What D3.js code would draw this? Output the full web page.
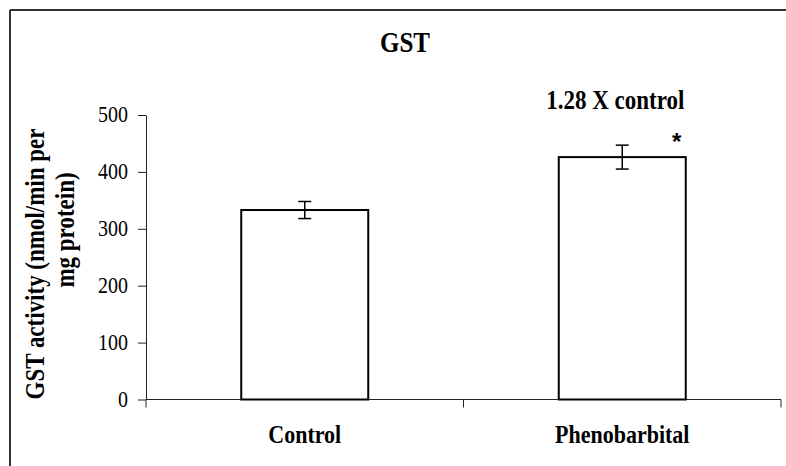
<!DOCTYPE html>
<html>
<head>
<meta charset="utf-8">
<script src="https://cdn.jsdelivr.net/npm/d3@7"></script>
<style>
  body { margin: 0; background: #fff; }
  svg text { font-family: "Liberation Serif", "Times New Roman", serif; fill: #000; }
</style>
</head>
<body>
<div id="chart"></div>
<script>
// values
const groups = ["Control", "Phenobarbital"];
const means = [333, 426];
const errors = [15, 21];
const yTicks = [0, 100, 200, 300, 400, 500];
const title = "GST";
const yTitle = ["GST activity (nmol/min per", "mg protein)"];
const foldText = "1.28 X control";
const sigMark = "*";

const width = 786;
const height = 466;
const stretch = 1.15; // the source text is a bit taller than it is wide

const svg = d3.select("#chart").append("svg")
  .attr("width", width)
  .attr("height", height);

// outer frame (only top and left edges are in view)
svg.append("line")
  .attr("x1", 10).attr("y1", 10).attr("x2", width).attr("y2", 10)
  .attr("stroke", "#333").attr("stroke-width", 2);
svg.append("line")
  .attr("x1", 10).attr("y1", 10).attr("x2", 10).attr("y2", height)
  .attr("stroke", "#333").attr("stroke-width", 2);

const x = d3.scaleBand()
  .domain(groups)
  .range([146, 781])
  .paddingInner(0.6)
  .paddingOuter(0.3);

const y = d3.scaleLinear()
  .domain([0, 500])
  .range([399.5, 115]);

const addText = (sel, str, tx, ty, size, bold, anchor, rot = 0) => {
  return sel.append("text")
    .attr("transform", "translate(" + tx + "," + ty + ")" +
      (rot ? " rotate(" + rot + ")" : "") + " scale(1," + stretch + ")")
    .attr("font-size", size)
    .attr("font-weight", bold ? "bold" : "normal")
    .attr("text-anchor", anchor)
    .text(str);
};

// y axis
const yAxis = svg.append("g")
  .attr("transform", "translate(146,0)")
  .call(d3.axisLeft(y).tickValues(yTicks).tickSize(8).tickSizeOuter(0).tickFormat(d3.format("d")));
yAxis.select(".domain").attr("stroke", "#222");
yAxis.selectAll(".tick line").attr("stroke", "#222");
yAxis.selectAll(".tick text").remove();
yTicks.forEach(function (t) {
  addText(svg, t, 128, y(t) + 7, 20, false, "end");
});

// x axis: ticks sit on the band boundaries, like the source
svg.append("line")
  .attr("x1", x.range()[0]).attr("x2", x.range()[1])
  .attr("y1", y(0)).attr("y2", y(0))
  .attr("stroke", "#222");
const bounds = [x.range()[0]].concat(groups.map(function (g) {
  return x(g) + x.bandwidth() + x.step() * x.paddingInner() / 2;
}));
svg.selectAll(".xtick")
  .data(bounds)
  .enter().append("line")
  .attr("class", "xtick")
  .attr("x1", function (d) { return d; })
  .attr("x2", function (d) { return d; })
  .attr("y1", y(0))
  .attr("y2", y(0) + 8)
  .attr("stroke", "#222");

groups.forEach(function (g) {
  addText(svg, g, x(g) + x.bandwidth() / 2, 443, 22, true, "middle");
});

// bars
svg.selectAll(".bar")
  .data(groups)
  .enter().append("rect")
  .attr("class", "bar")
  .attr("x", function (d) { return x(d); })
  .attr("y", function (d, i) { return y(means[i]); })
  .attr("width", x.bandwidth())
  .attr("height", function (d, i) { return y(0) - y(means[i]); })
  .attr("fill", "#fff")
  .attr("stroke", "#000")
  .attr("stroke-width", 2);

// error bars
const err = svg.selectAll(".err")
  .data(groups)
  .enter().append("g")
  .attr("class", "err")
  .attr("stroke", "#000")
  .attr("stroke-width", 1.5);
err.append("line")
  .attr("x1", function (d) { return x(d) + x.bandwidth() / 2; })
  .attr("x2", function (d) { return x(d) + x.bandwidth() / 2; })
  .attr("y1", function (d, i) { return y(means[i] + errors[i]); })
  .attr("y2", function (d, i) { return y(means[i] - errors[i]); });
[1, -1].forEach(function (sign) {
  err.append("line")
    .attr("x1", function (d) { return x(d) + x.bandwidth() / 2 - 6.5; })
    .attr("x2", function (d) { return x(d) + x.bandwidth() / 2 + 6.5; })
    .attr("y1", function (d, i) { return y(means[i] + sign * errors[i]); })
    .attr("y2", function (d, i) { return y(means[i] + sign * errors[i]); });
});

// title and annotations
addText(svg, title, 405, 52, 25, true, "middle");
const pb = groups[1];
addText(svg, foldText, x(pb) + x.bandwidth() / 2 - 7, 109, 23, true, "middle");
svg.append("text")
  .attr("x", x(pb) + x.bandwidth() - 9)
  .attr("y", 150)
  .attr("font-size", 24)
  .attr("font-weight", "bold")
  .attr("text-anchor", "middle")
  .style("font-family", "'Liberation Sans', Arial, sans-serif")
  .text(sigMark);

// y axis title, two lines
addText(svg, yTitle[0], 44, 264, 23, true, "middle", -90);
addText(svg, yTitle[1], 74, 230, 23, true, "middle", -90);
</script>
</body>
</html>
